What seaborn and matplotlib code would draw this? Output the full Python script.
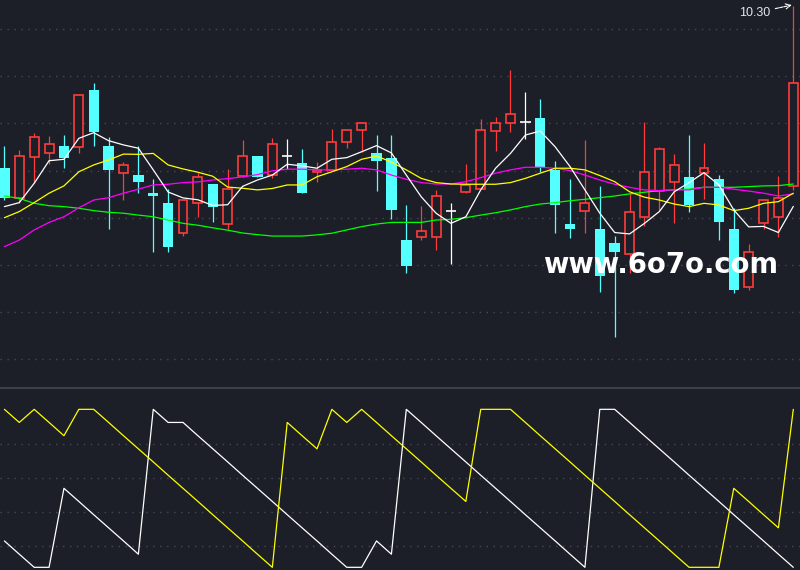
import numpy as np
import pandas as pd
import seaborn as sns
import matplotlib.pyplot as plt

# daily OHLC (54 sessions)
open_ = [9.610, 9.482, 9.659, 9.673, 9.704, 9.701, 9.942, 9.704, 9.591, 9.581,
         9.504, 9.461, 9.334, 9.461, 9.543, 9.372, 9.578, 9.662, 9.580, 9.661,
         9.632, 9.593, 9.603, 9.720, 9.771, 9.673, 9.652, 9.305, 9.319, 9.319,
         9.430, 9.510, 9.521, 9.769, 9.801, 9.808, 9.823, 9.603, 9.373, 9.430,
         9.351, 9.291, 9.245, 9.402, 9.513, 9.552, 9.572, 9.591, 9.564, 9.352,
         9.104, 9.379, 9.402, 9.533]
close = [9.484, 9.660, 9.741, 9.713, 9.655, 9.921, 9.765, 9.603, 9.623, 9.553,
         9.493, 9.277, 9.475, 9.572, 9.447, 9.521, 9.660, 9.574, 9.712, 9.661,
         9.506, 9.601, 9.720, 9.771, 9.801, 9.642, 9.433, 9.196, 9.342, 9.492,
         9.430, 9.539, 9.772, 9.801, 9.840, 9.808, 9.614, 9.454, 9.353, 9.461,
         9.154, 9.253, 9.423, 9.593, 9.690, 9.623, 9.454, 9.610, 9.383, 9.093,
         9.253, 9.474, 9.482, 9.971]
high = [9.704, 9.687, 9.761, 9.747, 9.751, 9.921, 9.973, 9.744, 9.637, 9.704,
        9.564, 9.522, 9.475, 9.591, 9.543, 9.607, 9.730, 9.662, 9.738, 9.734,
        9.692, 9.637, 9.775, 9.771, 9.801, 9.751, 9.751, 9.454, 9.451, 9.518,
        9.464, 9.628, 9.819, 9.829, 10.027, 9.933, 9.904, 9.641, 9.564, 9.730,
        9.533, 9.322, 9.506, 9.805, 9.699, 9.670, 9.751, 9.717, 9.580, 9.440,
        9.288, 9.478, 9.577, 10.30]
low = [9.477, 9.462, 9.546, 9.627, 9.612, 9.676, 9.704, 9.352, 9.475, 9.506,
       9.256, 9.256, 9.324, 9.404, 9.383, 9.352, 9.573, 9.574, 9.567, 9.608,
       9.506, 9.553, 9.603, 9.695, 9.680, 9.515, 9.395, 9.166, 9.305, 9.263,
       9.203, 9.506, 9.521, 9.685, 9.765, 9.734, 9.595, 9.336, 9.315, 9.336,
       9.086, 8.895, 9.166, 9.366, 9.433, 9.376, 9.426, 9.478, 9.305, 9.079,
       9.093, 9.352, 9.317, 9.518]

# moving averages as drawn
ma5 = [9.447, 9.464, 9.546, 9.642, 9.648, 9.737, 9.761, 9.727, 9.709, 9.695,
       9.603, 9.509, 9.484, 9.476, 9.452, 9.455, 9.533, 9.560, 9.581, 9.627,
       9.620, 9.610, 9.648, 9.655, 9.680, 9.706, 9.675, 9.581, 9.489, 9.419,
       9.376, 9.404, 9.518, 9.610, 9.673, 9.751, 9.768, 9.701, 9.617, 9.518,
       9.419, 9.337, 9.331, 9.376, 9.426, 9.510, 9.549, 9.591, 9.539, 9.433,
       9.361, 9.363, 9.337, 9.448]
ma10 = [9.400, 9.426, 9.464, 9.504, 9.535, 9.595, 9.624, 9.645, 9.670, 9.669,
        9.673, 9.624, 9.607, 9.593, 9.576, 9.530, 9.525, 9.518, 9.524, 9.539,
        9.539, 9.574, 9.595, 9.617, 9.648, 9.662, 9.636, 9.603, 9.567, 9.549,
        9.543, 9.542, 9.542, 9.542, 9.549, 9.567, 9.589, 9.610, 9.610, 9.603,
        9.579, 9.553, 9.510, 9.487, 9.475, 9.458, 9.447, 9.461, 9.454, 9.430,
        9.440, 9.461, 9.468, 9.504]
ma20 = [9.277, 9.305, 9.348, 9.380, 9.404, 9.442, 9.475, 9.485, 9.504, 9.521,
        9.539, 9.542, 9.549, 9.552, 9.560, 9.566, 9.573, 9.583, 9.599, 9.606,
        9.606, 9.603, 9.603, 9.606, 9.610, 9.603, 9.581, 9.563, 9.549, 9.543,
        9.543, 9.553, 9.570, 9.589, 9.603, 9.614, 9.614, 9.610, 9.600, 9.581,
        9.560, 9.542, 9.529, 9.518, 9.515, 9.518, 9.518, 9.529, 9.529, 9.521,
        9.513, 9.504, 9.492, 9.501]
ma60 = [9.492, 9.482, 9.461, 9.451, 9.447, 9.440, 9.430, 9.423, 9.419, 9.411,
        9.404, 9.390, 9.376, 9.368, 9.357, 9.347, 9.335, 9.328, 9.322, 9.322,
        9.322, 9.327, 9.334, 9.348, 9.362, 9.373, 9.380, 9.380, 9.380, 9.390,
        9.393, 9.400, 9.411, 9.421, 9.433, 9.447, 9.458, 9.464, 9.472, 9.478,
        9.485, 9.492, 9.501, 9.508, 9.515, 9.518, 9.522, 9.529, 9.529, 9.529,
        9.532, 9.535, 9.536, 9.543]

# oscillator panel (aroon up / down)
aroon_up = [100, 91.7, 100, 91.7, 83.3, 100, 100,
            91.7, 83.3, 75, 66.7, 58.3, 50, 41.7, 33.3, 25, 16.7, 8.3, 0,
            91.7, 83.3, 75, 100, 91.7, 100,
            91.7, 83.3, 75, 66.7, 58.3, 50, 41.7, 100, 100, 100,
            91.7, 83.3, 75, 66.7, 58.3, 50, 41.7, 33.3, 25, 16.7, 8.3, 0,
            0, 0, 50, 41.7, 33.3, 25, 100]
aroon_down = [16.7, 8.3, 0, 0, 50, 41.7, 33.3, 25, 16.7, 8.3,
              100, 91.7, 91.7, 83.3, 75, 66.7, 58.3, 50, 41.7, 33.3,
              25, 16.7, 8.3, 0, 0, 16.7, 8.3,
              100, 91.7, 83.3, 75, 66.7, 58.3, 50, 41.7, 33.3, 25, 16.7, 8.3, 0,
              100, 100, 91.7, 83.3, 75, 66.7, 58.3, 50, 41.7, 33.3, 25, 16.7, 8.3, 0]

price_grid = [8.8, 9.0, 9.2, 9.4, 9.6, 9.8, 10.0, 10.2]
osc_grid = [13.3, 35.0, 56.7, 78.3]

BG = '#1c1f27'
RED = '#ff3b3b'
CYAN = '#54ffff'
GRID = '#464a55'

sns.set_style('dark', rc={'axes.facecolor': BG, 'figure.facecolor': BG})
plt.rcParams['font.family'] = ['DejaVu Sans']

df = pd.DataFrame({'open': open_, 'high': high, 'low': low, 'close': close,
                   'ma5': ma5, 'ma10': ma10, 'ma20': ma20, 'ma60': ma60,
                   'up': aroon_up, 'down': aroon_down})
df['day'] = np.arange(len(df))

fig = plt.figure(figsize=(8, 5.7), dpi=100)
ax = fig.add_axes([0, 1 - 387 / 570, 1, 387 / 570])
ax2 = fig.add_axes([0, 0, 1, 182 / 570])

rising = df[df['close'] > df['open']]
falling = df[df['close'] < df['open']]
flat = df[df['close'] == df['open']]

# wicks
ax.vlines(rising['day'], rising['low'], rising['high'], color=RED, lw=0.9, zorder=2)
ax.vlines(falling['day'], falling['low'], falling['high'], color=CYAN, lw=0.9, zorder=2)
ax.vlines(flat['day'], flat['low'], flat['high'], color='white', lw=0.9, zorder=2)

# bodies
ax.bar(falling['day'], falling['open'] - falling['close'], bottom=falling['close'],
       width=0.7, color=CYAN, lw=0, zorder=3)
ax.bar(rising['day'], rising['close'] - rising['open'], bottom=rising['open'],
       width=0.6, facecolor=BG, edgecolor=RED, lw=1.2, zorder=3)
ax.hlines(flat['close'], flat['day'] - 0.35, flat['day'] + 0.35, color='white', lw=1.2, zorder=3)

# moving averages
for col, c in [('ma60', '#00ff00'), ('ma20', '#ff00ff'), ('ma10', '#ffff00'), ('ma5', 'white')]:
    sns.lineplot(data=df, x='day', y=col, ax=ax, color=c, lw=0.9, zorder=4)

ax.annotate('10.30', xy=(52.9, 10.303), xytext=(50.43, 10.2565),
            ha='center', va='baseline', color='#dfe6f2', fontsize=9,
            family=['Liberation Sans', 'DejaVu Sans'],
            arrowprops=dict(arrowstyle='->', color='white', lw=0.8,
                            linestyle=(0, (3, 1)), shrinkA=1, shrinkB=0))

ax.text(36.18, 9.163, 'www.6o7o.com', ha='left', va='baseline', color='white',
        fontsize=19.8, fontweight='bold', zorder=6)

ax.set_xlim(-0.296, 53.45)
ax.set_ylim(8.681, 10.3244)
ax.set_yticks(price_grid)

# oscillator
sns.lineplot(data=df, x='day', y='down', ax=ax2, color='white', lw=0.9)
sns.lineplot(data=df, x='day', y='up', ax=ax2, color='#ffff00', lw=0.9)
ax2.set_xlim(-0.296, 53.45)
ax2.set_ylim(-1.7, 113.5)
ax2.set_yticks(osc_grid)

for a in (ax, ax2):
    a.set_xticks([])
    a.grid(axis='y', color=GRID, linestyle=(0, (1, 4)), lw=1)
    a.grid(axis='x', visible=False)
    a.tick_params(length=0, labelleft=False, labelbottom=False)
    a.set_xlabel('')
    a.set_ylabel('')
    for s in a.spines.values():
        s.set_visible(False)
ax2.spines['top'].set_visible(True)
ax2.spines['top'].set_color('#3c3f47')
ax2.spines['top'].set_linewidth(1.5)

fig.savefig('out.png', dpi=100, facecolor=BG)
